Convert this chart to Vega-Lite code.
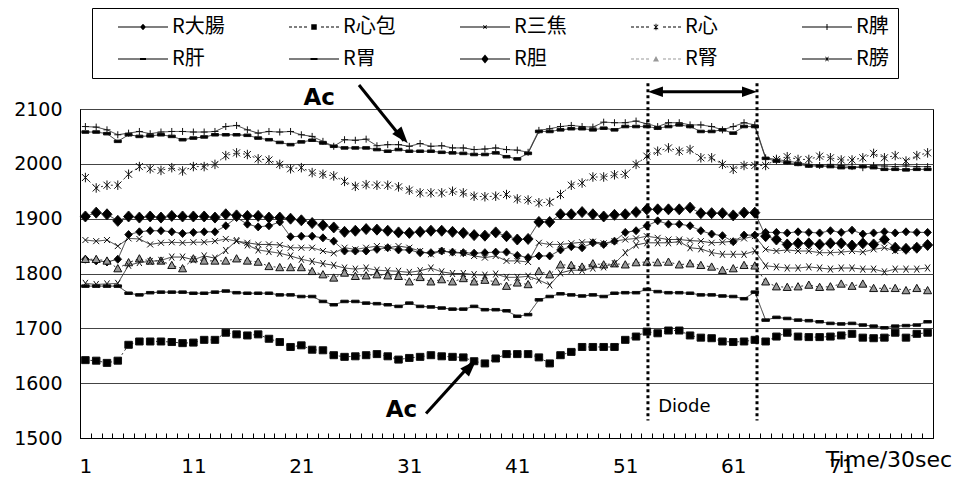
{
"$schema":"https://vega.github.io/schema/vega-lite/v6.json",
"width":853,"height":329,
"autosize":{"type":"none"},
"padding":{"left":80,"top":109,"right":23,"bottom":39},
"background":"white",
"config":{"view":{"stroke":"black","strokeWidth":1},"font":"DejaVu Sans",
 "axisY":{"ticks":false,"grid":true,"gridColor":"#444","gridWidth":1,"domainColor":"black","labelFont":"DejaVu Sans","labelFontSize":19,"labelColor":"black","labelPadding":18}},
"datasets":{"main":[
{"t":1,"s":"R大腸","v":1826},{"t":2,"s":"R大腸","v":1823},{"t":3,"s":"R大腸","v":1821},{"t":4,"s":"R大腸","v":1826},{"t":5,"s":"R大腸","v":1871},{"t":6,"s":"R大腸","v":1876},{"t":7,"s":"R大腸","v":1878},{"t":8,"s":"R大腸","v":1878},{"t":9,"s":"R大腸","v":1876},{"t":10,"s":"R大腸","v":1873},
{"t":11,"s":"R大腸","v":1875},{"t":12,"s":"R大腸","v":1876},{"t":13,"s":"R大腸","v":1876},{"t":14,"s":"R大腸","v":1887},{"t":15,"s":"R大腸","v":1902},{"t":16,"s":"R大腸","v":1890},{"t":17,"s":"R大腸","v":1885},{"t":18,"s":"R大腸","v":1887},{"t":19,"s":"R大腸","v":1894},{"t":20,"s":"R大腸","v":1867},
{"t":21,"s":"R大腸","v":1868},{"t":22,"s":"R大腸","v":1868},{"t":23,"s":"R大腸","v":1865},{"t":24,"s":"R大腸","v":1859},{"t":25,"s":"R大腸","v":1841},{"t":26,"s":"R大腸","v":1841},{"t":27,"s":"R大腸","v":1841},{"t":28,"s":"R大腸","v":1844},{"t":29,"s":"R大腸","v":1847},{"t":30,"s":"R大腸","v":1843},
{"t":31,"s":"R大腸","v":1843},{"t":32,"s":"R大腸","v":1838},{"t":33,"s":"R大腸","v":1838},{"t":34,"s":"R大腸","v":1841},{"t":35,"s":"R大腸","v":1839},{"t":36,"s":"R大腸","v":1838},{"t":37,"s":"R大腸","v":1837},{"t":38,"s":"R大腸","v":1838},{"t":39,"s":"R大腸","v":1839},{"t":40,"s":"R大腸","v":1839},
{"t":41,"s":"R大腸","v":1833},{"t":42,"s":"R大腸","v":1829},{"t":43,"s":"R大腸","v":1832},{"t":44,"s":"R大腸","v":1832},{"t":45,"s":"R大腸","v":1843},{"t":46,"s":"R大腸","v":1849},{"t":47,"s":"R大腸","v":1847},{"t":48,"s":"R大腸","v":1856},{"t":49,"s":"R大腸","v":1853},{"t":50,"s":"R大腸","v":1859},
{"t":51,"s":"R大腸","v":1875},{"t":52,"s":"R大腸","v":1878},{"t":53,"s":"R大腸","v":1887},{"t":54,"s":"R大腸","v":1896},{"t":55,"s":"R大腸","v":1890},{"t":56,"s":"R大腸","v":1890},{"t":57,"s":"R大腸","v":1887},{"t":58,"s":"R大腸","v":1878},{"t":59,"s":"R大腸","v":1872},{"t":60,"s":"R大腸","v":1869},
{"t":61,"s":"R大腸","v":1858},{"t":62,"s":"R大腸","v":1870},{"t":63,"s":"R大腸","v":1870},{"t":64,"s":"R大腸","v":1875},{"t":65,"s":"R大腸","v":1875},{"t":66,"s":"R大腸","v":1874},{"t":67,"s":"R大腸","v":1876},{"t":68,"s":"R大腸","v":1875},{"t":69,"s":"R大腸","v":1874},{"t":70,"s":"R大腸","v":1878},
{"t":71,"s":"R大腸","v":1875},{"t":72,"s":"R大腸","v":1879},{"t":73,"s":"R大腸","v":1872},{"t":74,"s":"R大腸","v":1874},{"t":75,"s":"R大腸","v":1876},{"t":76,"s":"R大腸","v":1874},{"t":77,"s":"R大腸","v":1876},{"t":78,"s":"R大腸","v":1875},{"t":79,"s":"R大腸","v":1875},
{"t":1,"s":"R心包","v":1642},{"t":2,"s":"R心包","v":1641},{"t":3,"s":"R心包","v":1637},{"t":4,"s":"R心包","v":1641},{"t":5,"s":"R心包","v":1670},{"t":6,"s":"R心包","v":1676},{"t":7,"s":"R心包","v":1676},{"t":8,"s":"R心包","v":1676},{"t":9,"s":"R心包","v":1675},{"t":10,"s":"R心包","v":1673},
{"t":11,"s":"R心包","v":1674},{"t":12,"s":"R心包","v":1679},{"t":13,"s":"R心包","v":1679},{"t":14,"s":"R心包","v":1692},{"t":15,"s":"R心包","v":1689},{"t":16,"s":"R心包","v":1687},{"t":17,"s":"R心包","v":1689},{"t":18,"s":"R心包","v":1681},{"t":19,"s":"R心包","v":1675},{"t":20,"s":"R心包","v":1666},
{"t":21,"s":"R心包","v":1669},{"t":22,"s":"R心包","v":1661},{"t":23,"s":"R心包","v":1660},{"t":24,"s":"R心包","v":1651},{"t":25,"s":"R心包","v":1648},{"t":26,"s":"R心包","v":1649},{"t":27,"s":"R心包","v":1651},{"t":28,"s":"R心包","v":1653},{"t":29,"s":"R心包","v":1649},{"t":30,"s":"R心包","v":1643},
{"t":31,"s":"R心包","v":1646},{"t":32,"s":"R心包","v":1648},{"t":33,"s":"R心包","v":1651},{"t":34,"s":"R心包","v":1649},{"t":35,"s":"R心包","v":1648},{"t":36,"s":"R心包","v":1647},{"t":37,"s":"R心包","v":1640},{"t":38,"s":"R心包","v":1636},{"t":39,"s":"R心包","v":1645},{"t":40,"s":"R心包","v":1653},
{"t":41,"s":"R心包","v":1653},{"t":42,"s":"R心包","v":1653},{"t":43,"s":"R心包","v":1647},{"t":44,"s":"R心包","v":1636},{"t":45,"s":"R心包","v":1651},{"t":46,"s":"R心包","v":1657},{"t":47,"s":"R心包","v":1666},{"t":48,"s":"R心包","v":1666},{"t":49,"s":"R心包","v":1666},{"t":50,"s":"R心包","v":1666},
{"t":51,"s":"R心包","v":1679},{"t":52,"s":"R心包","v":1685},{"t":53,"s":"R心包","v":1694},{"t":54,"s":"R心包","v":1691},{"t":55,"s":"R心包","v":1696},{"t":56,"s":"R心包","v":1696},{"t":57,"s":"R心包","v":1687},{"t":58,"s":"R心包","v":1683},{"t":59,"s":"R心包","v":1682},{"t":60,"s":"R心包","v":1676},
{"t":61,"s":"R心包","v":1675},{"t":62,"s":"R心包","v":1676},{"t":63,"s":"R心包","v":1679},{"t":64,"s":"R心包","v":1676},{"t":65,"s":"R心包","v":1685},{"t":66,"s":"R心包","v":1692},{"t":67,"s":"R心包","v":1685},{"t":68,"s":"R心包","v":1684},{"t":69,"s":"R心包","v":1684},{"t":70,"s":"R心包","v":1685},
{"t":71,"s":"R心包","v":1687},{"t":72,"s":"R心包","v":1690},{"t":73,"s":"R心包","v":1683},{"t":74,"s":"R心包","v":1682},{"t":75,"s":"R心包","v":1683},{"t":76,"s":"R心包","v":1692},{"t":77,"s":"R心包","v":1683},{"t":78,"s":"R心包","v":1690},{"t":79,"s":"R心包","v":1692},
{"t":1,"s":"R三焦","v":1861},{"t":2,"s":"R三焦","v":1859},{"t":3,"s":"R三焦","v":1861},{"t":4,"s":"R三焦","v":1850},{"t":5,"s":"R三焦","v":1864},{"t":6,"s":"R三焦","v":1863},{"t":7,"s":"R三焦","v":1853},{"t":8,"s":"R三焦","v":1856},{"t":9,"s":"R三焦","v":1857},{"t":10,"s":"R三焦","v":1856},
{"t":11,"s":"R三焦","v":1857},{"t":12,"s":"R三焦","v":1857},{"t":13,"s":"R三焦","v":1859},{"t":14,"s":"R三焦","v":1863},{"t":15,"s":"R三焦","v":1859},{"t":16,"s":"R三焦","v":1856},{"t":17,"s":"R三焦","v":1853},{"t":18,"s":"R三焦","v":1853},{"t":19,"s":"R三焦","v":1852},{"t":20,"s":"R三焦","v":1847},
{"t":21,"s":"R三焦","v":1847},{"t":22,"s":"R三焦","v":1847},{"t":23,"s":"R三焦","v":1841},{"t":24,"s":"R三焦","v":1837},{"t":25,"s":"R三焦","v":1847},{"t":26,"s":"R三焦","v":1844},{"t":27,"s":"R三焦","v":1847},{"t":28,"s":"R三焦","v":1850},{"t":29,"s":"R三焦","v":1847},{"t":30,"s":"R三焦","v":1850},
{"t":31,"s":"R三焦","v":1847},{"t":32,"s":"R三焦","v":1841},{"t":33,"s":"R三焦","v":1835},{"t":34,"s":"R三焦","v":1841},{"t":35,"s":"R三焦","v":1838},{"t":36,"s":"R三焦","v":1837},{"t":37,"s":"R三焦","v":1832},{"t":38,"s":"R三焦","v":1829},{"t":39,"s":"R三焦","v":1832},{"t":40,"s":"R三焦","v":1823},
{"t":41,"s":"R三焦","v":1823},{"t":42,"s":"R三焦","v":1821},{"t":43,"s":"R三焦","v":1856},{"t":44,"s":"R三焦","v":1853},{"t":45,"s":"R三焦","v":1853},{"t":46,"s":"R三焦","v":1855},{"t":47,"s":"R三焦","v":1857},{"t":48,"s":"R三焦","v":1858},{"t":49,"s":"R三焦","v":1855},{"t":50,"s":"R三焦","v":1859},
{"t":51,"s":"R三焦","v":1862},{"t":52,"s":"R三焦","v":1864},{"t":53,"s":"R三焦","v":1868},{"t":54,"s":"R三焦","v":1865},{"t":55,"s":"R三焦","v":1862},{"t":56,"s":"R三焦","v":1862},{"t":57,"s":"R三焦","v":1860},{"t":58,"s":"R三焦","v":1859},{"t":59,"s":"R三焦","v":1856},{"t":60,"s":"R三焦","v":1857},
{"t":61,"s":"R三焦","v":1859},{"t":62,"s":"R三焦","v":1864},{"t":63,"s":"R三焦","v":1868},{"t":64,"s":"R三焦","v":1844},{"t":65,"s":"R三焦","v":1841},{"t":66,"s":"R三焦","v":1843},{"t":67,"s":"R三焦","v":1841},{"t":68,"s":"R三焦","v":1841},{"t":69,"s":"R三焦","v":1838},{"t":70,"s":"R三焦","v":1838},
{"t":71,"s":"R三焦","v":1839},{"t":72,"s":"R三焦","v":1841},{"t":73,"s":"R三焦","v":1839},{"t":74,"s":"R三焦","v":1844},{"t":75,"s":"R三焦","v":1847},{"t":76,"s":"R三焦","v":1841},{"t":77,"s":"R三焦","v":1844},{"t":78,"s":"R三焦","v":1847},{"t":79,"s":"R三焦","v":1852},
{"t":1,"s":"R心","v":1975},{"t":2,"s":"R心","v":1956},{"t":3,"s":"R心","v":1961},{"t":4,"s":"R心","v":1961},{"t":5,"s":"R心","v":1981},{"t":6,"s":"R心","v":1995},{"t":7,"s":"R心","v":1991},{"t":8,"s":"R心","v":1988},{"t":9,"s":"R心","v":1993},{"t":10,"s":"R心","v":1987},
{"t":11,"s":"R心","v":1995},{"t":12,"s":"R心","v":1995},{"t":13,"s":"R心","v":1999},{"t":14,"s":"R心","v":2015},{"t":15,"s":"R心","v":2020},{"t":16,"s":"R心","v":2017},{"t":17,"s":"R心","v":2009},{"t":18,"s":"R心","v":2007},{"t":19,"s":"R心","v":1999},{"t":20,"s":"R心","v":1991},
{"t":21,"s":"R心","v":1993},{"t":22,"s":"R心","v":1984},{"t":23,"s":"R心","v":1981},{"t":24,"s":"R心","v":1978},{"t":25,"s":"R心","v":1968},{"t":26,"s":"R心","v":1959},{"t":27,"s":"R心","v":1962},{"t":28,"s":"R心","v":1961},{"t":29,"s":"R心","v":1961},{"t":30,"s":"R心","v":1958},
{"t":31,"s":"R心","v":1952},{"t":32,"s":"R心","v":1947},{"t":33,"s":"R心","v":1947},{"t":34,"s":"R心","v":1947},{"t":35,"s":"R心","v":1950},{"t":36,"s":"R心","v":1947},{"t":37,"s":"R心","v":1941},{"t":38,"s":"R心","v":1940},{"t":39,"s":"R心","v":1941},{"t":40,"s":"R心","v":1944},
{"t":41,"s":"R心","v":1936},{"t":42,"s":"R心","v":1934},{"t":43,"s":"R心","v":1929},{"t":44,"s":"R心","v":1930},{"t":45,"s":"R心","v":1944},{"t":46,"s":"R心","v":1961},{"t":47,"s":"R心","v":1965},{"t":48,"s":"R心","v":1976},{"t":49,"s":"R心","v":1976},{"t":50,"s":"R心","v":1980},
{"t":51,"s":"R心","v":1981},{"t":52,"s":"R心","v":1999},{"t":53,"s":"R心","v":2014},{"t":54,"s":"R心","v":2023},{"t":55,"s":"R心","v":2029},{"t":56,"s":"R心","v":2023},{"t":57,"s":"R心","v":2026},{"t":58,"s":"R心","v":2011},{"t":59,"s":"R心","v":2011},{"t":60,"s":"R心","v":1999},
{"t":61,"s":"R心","v":1990},{"t":62,"s":"R心","v":1997},{"t":63,"s":"R心","v":1997},{"t":64,"s":"R心","v":1997},{"t":65,"s":"R心","v":2008},{"t":66,"s":"R心","v":2013},{"t":67,"s":"R心","v":2008},{"t":68,"s":"R心","v":2008},{"t":69,"s":"R心","v":2014},{"t":70,"s":"R心","v":2011},
{"t":71,"s":"R心","v":2007},{"t":72,"s":"R心","v":2007},{"t":73,"s":"R心","v":2011},{"t":74,"s":"R心","v":2019},{"t":75,"s":"R心","v":2011},{"t":76,"s":"R心","v":2015},{"t":77,"s":"R心","v":2005},{"t":78,"s":"R心","v":2015},{"t":79,"s":"R心","v":2020},
{"t":1,"s":"R脾","v":2068},{"t":2,"s":"R脾","v":2067},{"t":3,"s":"R脾","v":2062},{"t":4,"s":"R脾","v":2053},{"t":5,"s":"R脾","v":2056},{"t":6,"s":"R脾","v":2059},{"t":7,"s":"R脾","v":2055},{"t":8,"s":"R脾","v":2058},{"t":9,"s":"R脾","v":2059},{"t":10,"s":"R脾","v":2059},
{"t":11,"s":"R脾","v":2058},{"t":12,"s":"R脾","v":2058},{"t":13,"s":"R脾","v":2059},{"t":14,"s":"R脾","v":2068},{"t":15,"s":"R脾","v":2070},{"t":16,"s":"R脾","v":2062},{"t":17,"s":"R脾","v":2056},{"t":18,"s":"R脾","v":2059},{"t":19,"s":"R脾","v":2058},{"t":20,"s":"R脾","v":2059},
{"t":21,"s":"R脾","v":2053},{"t":22,"s":"R脾","v":2050},{"t":23,"s":"R脾","v":2041},{"t":24,"s":"R脾","v":2032},{"t":25,"s":"R脾","v":2044},{"t":26,"s":"R脾","v":2043},{"t":27,"s":"R脾","v":2045},{"t":28,"s":"R脾","v":2033},{"t":29,"s":"R脾","v":2035},{"t":30,"s":"R脾","v":2035},
{"t":31,"s":"R脾","v":2032},{"t":32,"s":"R脾","v":2037},{"t":33,"s":"R脾","v":2032},{"t":34,"s":"R脾","v":2033},{"t":35,"s":"R脾","v":2029},{"t":36,"s":"R脾","v":2029},{"t":37,"s":"R脾","v":2026},{"t":38,"s":"R脾","v":2027},{"t":39,"s":"R脾","v":2029},{"t":40,"s":"R脾","v":2026},
{"t":41,"s":"R脾","v":2025},{"t":42,"s":"R脾","v":2021},{"t":43,"s":"R脾","v":2061},{"t":44,"s":"R脾","v":2064},{"t":45,"s":"R脾","v":2068},{"t":46,"s":"R脾","v":2070},{"t":47,"s":"R脾","v":2068},{"t":48,"s":"R脾","v":2067},{"t":49,"s":"R脾","v":2076},{"t":50,"s":"R脾","v":2075},
{"t":51,"s":"R脾","v":2075},{"t":52,"s":"R脾","v":2078},{"t":53,"s":"R脾","v":2073},{"t":54,"s":"R脾","v":2068},{"t":55,"s":"R脾","v":2075},{"t":56,"s":"R脾","v":2075},{"t":57,"s":"R脾","v":2071},{"t":58,"s":"R脾","v":2071},{"t":59,"s":"R脾","v":2068},{"t":60,"s":"R脾","v":2062},
{"t":61,"s":"R脾","v":2068},{"t":62,"s":"R脾","v":2075},{"t":63,"s":"R脾","v":2071},{"t":64,"s":"R脾","v":2011},{"t":65,"s":"R脾","v":2008},{"t":66,"s":"R脾","v":2005},{"t":67,"s":"R脾","v":2002},{"t":68,"s":"R脾","v":1999},{"t":69,"s":"R脾","v":1997},{"t":70,"s":"R脾","v":1999},
{"t":71,"s":"R脾","v":1997},{"t":72,"s":"R脾","v":1995},{"t":73,"s":"R脾","v":1993},{"t":74,"s":"R脾","v":1997},{"t":75,"s":"R脾","v":1996},{"t":76,"s":"R脾","v":1995},{"t":77,"s":"R脾","v":1996},{"t":78,"s":"R脾","v":1995},{"t":79,"s":"R脾","v":1995},
{"t":1,"s":"R肝","v":2058},{"t":2,"s":"R肝","v":2058},{"t":3,"s":"R肝","v":2055},{"t":4,"s":"R肝","v":2041},{"t":5,"s":"R肝","v":2053},{"t":6,"s":"R肝","v":2050},{"t":7,"s":"R肝","v":2051},{"t":8,"s":"R肝","v":2053},{"t":9,"s":"R肝","v":2050},{"t":10,"s":"R肝","v":2044},
{"t":11,"s":"R肝","v":2047},{"t":12,"s":"R肝","v":2049},{"t":13,"s":"R肝","v":2053},{"t":14,"s":"R肝","v":2053},{"t":15,"s":"R肝","v":2053},{"t":16,"s":"R肝","v":2052},{"t":17,"s":"R肝","v":2047},{"t":18,"s":"R肝","v":2044},{"t":19,"s":"R肝","v":2039},{"t":20,"s":"R肝","v":2035},
{"t":21,"s":"R肝","v":2040},{"t":22,"s":"R肝","v":2043},{"t":23,"s":"R肝","v":2038},{"t":24,"s":"R肝","v":2032},{"t":25,"s":"R肝","v":2029},{"t":26,"s":"R肝","v":2029},{"t":27,"s":"R肝","v":2029},{"t":28,"s":"R肝","v":2026},{"t":29,"s":"R肝","v":2023},{"t":30,"s":"R肝","v":2026},
{"t":31,"s":"R肝","v":2023},{"t":32,"s":"R肝","v":2023},{"t":33,"s":"R肝","v":2023},{"t":34,"s":"R肝","v":2021},{"t":35,"s":"R肝","v":2020},{"t":36,"s":"R肝","v":2019},{"t":37,"s":"R肝","v":2017},{"t":38,"s":"R肝","v":2017},{"t":39,"s":"R肝","v":2020},{"t":40,"s":"R肝","v":2013},
{"t":41,"s":"R肝","v":2009},{"t":42,"s":"R肝","v":2019},{"t":43,"s":"R肝","v":2059},{"t":44,"s":"R肝","v":2059},{"t":45,"s":"R肝","v":2062},{"t":46,"s":"R肝","v":2064},{"t":47,"s":"R肝","v":2064},{"t":48,"s":"R肝","v":2062},{"t":49,"s":"R肝","v":2065},{"t":50,"s":"R肝","v":2062},
{"t":51,"s":"R肝","v":2068},{"t":52,"s":"R肝","v":2068},{"t":53,"s":"R肝","v":2068},{"t":54,"s":"R肝","v":2065},{"t":55,"s":"R肝","v":2068},{"t":56,"s":"R肝","v":2071},{"t":57,"s":"R肝","v":2068},{"t":58,"s":"R肝","v":2059},{"t":59,"s":"R肝","v":2059},{"t":60,"s":"R肝","v":2062},
{"t":61,"s":"R肝","v":2056},{"t":62,"s":"R肝","v":2068},{"t":63,"s":"R肝","v":2068},{"t":64,"s":"R肝","v":2010},{"t":65,"s":"R肝","v":2005},{"t":66,"s":"R肝","v":2002},{"t":67,"s":"R肝","v":1999},{"t":68,"s":"R肝","v":1996},{"t":69,"s":"R肝","v":1996},{"t":70,"s":"R肝","v":1995},
{"t":71,"s":"R肝","v":1993},{"t":72,"s":"R肝","v":1993},{"t":73,"s":"R肝","v":1995},{"t":74,"s":"R肝","v":1993},{"t":75,"s":"R肝","v":1990},{"t":76,"s":"R肝","v":1990},{"t":77,"s":"R肝","v":1989},{"t":78,"s":"R肝","v":1990},{"t":79,"s":"R肝","v":1990},
{"t":1,"s":"R胃","v":1777},{"t":2,"s":"R胃","v":1777},{"t":3,"s":"R胃","v":1777},{"t":4,"s":"R胃","v":1777},{"t":5,"s":"R胃","v":1764},{"t":6,"s":"R胃","v":1761},{"t":7,"s":"R胃","v":1765},{"t":8,"s":"R胃","v":1766},{"t":9,"s":"R胃","v":1766},{"t":10,"s":"R胃","v":1766},
{"t":11,"s":"R胃","v":1764},{"t":12,"s":"R胃","v":1764},{"t":13,"s":"R胃","v":1766},{"t":14,"s":"R胃","v":1768},{"t":15,"s":"R胃","v":1765},{"t":16,"s":"R胃","v":1764},{"t":17,"s":"R胃","v":1764},{"t":18,"s":"R胃","v":1764},{"t":19,"s":"R胃","v":1761},{"t":20,"s":"R胃","v":1761},
{"t":21,"s":"R胃","v":1758},{"t":22,"s":"R胃","v":1758},{"t":23,"s":"R胃","v":1749},{"t":24,"s":"R胃","v":1743},{"t":25,"s":"R胃","v":1749},{"t":26,"s":"R胃","v":1749},{"t":27,"s":"R胃","v":1746},{"t":28,"s":"R胃","v":1745},{"t":29,"s":"R胃","v":1743},{"t":30,"s":"R胃","v":1740},
{"t":31,"s":"R胃","v":1746},{"t":32,"s":"R胃","v":1740},{"t":33,"s":"R胃","v":1739},{"t":34,"s":"R胃","v":1737},{"t":35,"s":"R胃","v":1735},{"t":36,"s":"R胃","v":1735},{"t":37,"s":"R胃","v":1740},{"t":38,"s":"R胃","v":1734},{"t":39,"s":"R胃","v":1734},{"t":40,"s":"R胃","v":1732},
{"t":41,"s":"R胃","v":1722},{"t":42,"s":"R胃","v":1725},{"t":43,"s":"R胃","v":1752},{"t":44,"s":"R胃","v":1758},{"t":45,"s":"R胃","v":1763},{"t":46,"s":"R胃","v":1761},{"t":47,"s":"R胃","v":1759},{"t":48,"s":"R胃","v":1761},{"t":49,"s":"R胃","v":1758},{"t":50,"s":"R胃","v":1764},
{"t":51,"s":"R胃","v":1765},{"t":52,"s":"R胃","v":1765},{"t":53,"s":"R胃","v":1771},{"t":54,"s":"R胃","v":1767},{"t":55,"s":"R胃","v":1765},{"t":56,"s":"R胃","v":1765},{"t":57,"s":"R胃","v":1764},{"t":58,"s":"R胃","v":1761},{"t":59,"s":"R胃","v":1761},{"t":60,"s":"R胃","v":1759},
{"t":61,"s":"R胃","v":1758},{"t":62,"s":"R胃","v":1754},{"t":63,"s":"R胃","v":1766},{"t":64,"s":"R胃","v":1715},{"t":65,"s":"R胃","v":1720},{"t":66,"s":"R胃","v":1718},{"t":67,"s":"R胃","v":1715},{"t":68,"s":"R胃","v":1714},{"t":69,"s":"R胃","v":1712},{"t":70,"s":"R胃","v":1709},
{"t":71,"s":"R胃","v":1708},{"t":72,"s":"R胃","v":1709},{"t":73,"s":"R胃","v":1706},{"t":74,"s":"R胃","v":1704},{"t":75,"s":"R胃","v":1701},{"t":76,"s":"R胃","v":1704},{"t":77,"s":"R胃","v":1705},{"t":78,"s":"R胃","v":1706},{"t":79,"s":"R胃","v":1712},
{"t":1,"s":"R胆","v":1904},{"t":2,"s":"R胆","v":1911},{"t":3,"s":"R胆","v":1908},{"t":4,"s":"R胆","v":1896},{"t":5,"s":"R胆","v":1904},{"t":6,"s":"R胆","v":1902},{"t":7,"s":"R胆","v":1904},{"t":8,"s":"R胆","v":1902},{"t":9,"s":"R胆","v":1905},{"t":10,"s":"R胆","v":1904},
{"t":11,"s":"R胆","v":1904},{"t":12,"s":"R胆","v":1904},{"t":13,"s":"R胆","v":1902},{"t":14,"s":"R胆","v":1908},{"t":15,"s":"R胆","v":1906},{"t":16,"s":"R胆","v":1905},{"t":17,"s":"R胆","v":1905},{"t":18,"s":"R胆","v":1902},{"t":19,"s":"R胆","v":1902},{"t":20,"s":"R胆","v":1900},
{"t":21,"s":"R胆","v":1897},{"t":22,"s":"R胆","v":1892},{"t":23,"s":"R胆","v":1888},{"t":24,"s":"R胆","v":1884},{"t":25,"s":"R胆","v":1876},{"t":26,"s":"R胆","v":1878},{"t":27,"s":"R胆","v":1881},{"t":28,"s":"R胆","v":1880},{"t":29,"s":"R胆","v":1878},{"t":30,"s":"R胆","v":1875},
{"t":31,"s":"R胆","v":1874},{"t":32,"s":"R胆","v":1876},{"t":33,"s":"R胆","v":1878},{"t":34,"s":"R胆","v":1878},{"t":35,"s":"R胆","v":1876},{"t":36,"s":"R胆","v":1874},{"t":37,"s":"R胆","v":1870},{"t":38,"s":"R胆","v":1869},{"t":39,"s":"R胆","v":1875},{"t":40,"s":"R胆","v":1868},
{"t":41,"s":"R胆","v":1862},{"t":42,"s":"R胆","v":1863},{"t":43,"s":"R胆","v":1894},{"t":44,"s":"R胆","v":1894},{"t":45,"s":"R胆","v":1908},{"t":46,"s":"R胆","v":1908},{"t":47,"s":"R胆","v":1912},{"t":48,"s":"R胆","v":1908},{"t":49,"s":"R胆","v":1904},{"t":50,"s":"R胆","v":1907},
{"t":51,"s":"R胆","v":1908},{"t":52,"s":"R胆","v":1912},{"t":53,"s":"R胆","v":1917},{"t":54,"s":"R胆","v":1917},{"t":55,"s":"R胆","v":1917},{"t":56,"s":"R胆","v":1917},{"t":57,"s":"R胆","v":1920},{"t":58,"s":"R胆","v":1910},{"t":59,"s":"R胆","v":1910},{"t":60,"s":"R胆","v":1910},
{"t":61,"s":"R胆","v":1906},{"t":62,"s":"R胆","v":1911},{"t":63,"s":"R胆","v":1911},{"t":64,"s":"R胆","v":1868},{"t":65,"s":"R胆","v":1862},{"t":66,"s":"R胆","v":1853},{"t":67,"s":"R胆","v":1855},{"t":68,"s":"R胆","v":1855},{"t":69,"s":"R胆","v":1853},{"t":70,"s":"R胆","v":1855},
{"t":71,"s":"R胆","v":1855},{"t":72,"s":"R胆","v":1851},{"t":73,"s":"R胆","v":1855},{"t":74,"s":"R胆","v":1853},{"t":75,"s":"R胆","v":1862},{"t":76,"s":"R胆","v":1847},{"t":77,"s":"R胆","v":1845},{"t":78,"s":"R胆","v":1847},{"t":79,"s":"R胆","v":1852},
{"t":1,"s":"R腎","v":1826},{"t":2,"s":"R腎","v":1826},{"t":3,"s":"R腎","v":1823},{"t":4,"s":"R腎","v":1809},{"t":5,"s":"R腎","v":1820},{"t":6,"s":"R腎","v":1827},{"t":7,"s":"R腎","v":1823},{"t":8,"s":"R腎","v":1823},{"t":9,"s":"R腎","v":1815},{"t":10,"s":"R腎","v":1809},
{"t":11,"s":"R腎","v":1827},{"t":12,"s":"R腎","v":1823},{"t":13,"s":"R腎","v":1823},{"t":14,"s":"R腎","v":1823},{"t":15,"s":"R腎","v":1827},{"t":16,"s":"R腎","v":1823},{"t":17,"s":"R腎","v":1821},{"t":18,"s":"R腎","v":1813},{"t":19,"s":"R腎","v":1811},{"t":20,"s":"R腎","v":1811},
{"t":21,"s":"R腎","v":1811},{"t":22,"s":"R腎","v":1804},{"t":23,"s":"R腎","v":1798},{"t":24,"s":"R腎","v":1792},{"t":25,"s":"R腎","v":1801},{"t":26,"s":"R腎","v":1795},{"t":27,"s":"R腎","v":1796},{"t":28,"s":"R腎","v":1798},{"t":29,"s":"R腎","v":1796},{"t":30,"s":"R腎","v":1795},
{"t":31,"s":"R腎","v":1785},{"t":32,"s":"R腎","v":1793},{"t":33,"s":"R腎","v":1785},{"t":34,"s":"R腎","v":1789},{"t":35,"s":"R腎","v":1785},{"t":36,"s":"R腎","v":1791},{"t":37,"s":"R腎","v":1785},{"t":38,"s":"R腎","v":1788},{"t":39,"s":"R腎","v":1785},{"t":40,"s":"R腎","v":1777},
{"t":41,"s":"R腎","v":1783},{"t":42,"s":"R腎","v":1780},{"t":43,"s":"R腎","v":1804},{"t":44,"s":"R腎","v":1798},{"t":45,"s":"R腎","v":1816},{"t":46,"s":"R腎","v":1815},{"t":47,"s":"R腎","v":1812},{"t":48,"s":"R腎","v":1818},{"t":49,"s":"R腎","v":1816},{"t":50,"s":"R腎","v":1818},
{"t":51,"s":"R腎","v":1816},{"t":52,"s":"R腎","v":1820},{"t":53,"s":"R腎","v":1821},{"t":54,"s":"R腎","v":1820},{"t":55,"s":"R腎","v":1821},{"t":56,"s":"R腎","v":1816},{"t":57,"s":"R腎","v":1818},{"t":58,"s":"R腎","v":1815},{"t":59,"s":"R腎","v":1812},{"t":60,"s":"R腎","v":1806},
{"t":61,"s":"R腎","v":1809},{"t":62,"s":"R腎","v":1815},{"t":63,"s":"R腎","v":1814},{"t":64,"s":"R腎","v":1785},{"t":65,"s":"R腎","v":1776},{"t":66,"s":"R腎","v":1775},{"t":67,"s":"R腎","v":1776},{"t":68,"s":"R腎","v":1779},{"t":69,"s":"R腎","v":1775},{"t":70,"s":"R腎","v":1776},
{"t":71,"s":"R腎","v":1781},{"t":72,"s":"R腎","v":1777},{"t":73,"s":"R腎","v":1781},{"t":74,"s":"R腎","v":1773},{"t":75,"s":"R腎","v":1773},{"t":76,"s":"R腎","v":1773},{"t":77,"s":"R腎","v":1769},{"t":78,"s":"R腎","v":1773},{"t":79,"s":"R腎","v":1769},
{"t":1,"s":"R膀","v":1782},{"t":2,"s":"R膀","v":1780},{"t":3,"s":"R膀","v":1781},{"t":4,"s":"R膀","v":1782},{"t":5,"s":"R膀","v":1815},{"t":6,"s":"R膀","v":1820},{"t":7,"s":"R膀","v":1822},{"t":8,"s":"R膀","v":1824},{"t":9,"s":"R膀","v":1830},{"t":10,"s":"R膀","v":1830},
{"t":11,"s":"R膀","v":1825},{"t":12,"s":"R膀","v":1832},{"t":13,"s":"R膀","v":1828},{"t":14,"s":"R膀","v":1842},{"t":15,"s":"R膀","v":1860},{"t":16,"s":"R膀","v":1852},{"t":17,"s":"R膀","v":1843},{"t":18,"s":"R膀","v":1840},{"t":19,"s":"R膀","v":1837},{"t":20,"s":"R膀","v":1832},
{"t":21,"s":"R膀","v":1826},{"t":22,"s":"R膀","v":1822},{"t":23,"s":"R膀","v":1818},{"t":24,"s":"R膀","v":1815},{"t":25,"s":"R膀","v":1810},{"t":26,"s":"R膀","v":1808},{"t":27,"s":"R膀","v":1810},{"t":28,"s":"R膀","v":1806},{"t":29,"s":"R膀","v":1805},{"t":30,"s":"R膀","v":1804},
{"t":31,"s":"R膀","v":1802},{"t":32,"s":"R膀","v":1805},{"t":33,"s":"R膀","v":1810},{"t":34,"s":"R膀","v":1803},{"t":35,"s":"R膀","v":1800},{"t":36,"s":"R膀","v":1800},{"t":37,"s":"R膀","v":1798},{"t":38,"s":"R膀","v":1797},{"t":39,"s":"R膀","v":1799},{"t":40,"s":"R膀","v":1793},
{"t":41,"s":"R膀","v":1793},{"t":42,"s":"R膀","v":1795},{"t":43,"s":"R膀","v":1788},{"t":44,"s":"R膀","v":1779},{"t":45,"s":"R膀","v":1801},{"t":46,"s":"R膀","v":1806},{"t":47,"s":"R膀","v":1806},{"t":48,"s":"R膀","v":1810},{"t":49,"s":"R膀","v":1812},{"t":50,"s":"R膀","v":1818},
{"t":51,"s":"R膀","v":1838},{"t":52,"s":"R膀","v":1852},{"t":53,"s":"R膀","v":1856},{"t":54,"s":"R膀","v":1856},{"t":55,"s":"R膀","v":1856},{"t":56,"s":"R膀","v":1858},{"t":57,"s":"R膀","v":1847},{"t":58,"s":"R膀","v":1845},{"t":59,"s":"R膀","v":1838},{"t":60,"s":"R膀","v":1835},
{"t":61,"s":"R膀","v":1835},{"t":62,"s":"R膀","v":1835},{"t":63,"s":"R膀","v":1841},{"t":64,"s":"R膀","v":1814},{"t":65,"s":"R膀","v":1812},{"t":66,"s":"R膀","v":1810},{"t":67,"s":"R膀","v":1810},{"t":68,"s":"R膀","v":1812},{"t":69,"s":"R膀","v":1810},{"t":70,"s":"R膀","v":1808},
{"t":71,"s":"R膀","v":1810},{"t":72,"s":"R膀","v":1810},{"t":73,"s":"R膀","v":1808},{"t":74,"s":"R膀","v":1808},{"t":75,"s":"R膀","v":1803},{"t":76,"s":"R膀","v":1808},{"t":77,"s":"R膀","v":1808},{"t":78,"s":"R膀","v":1808},{"t":79,"s":"R膀","v":1810}
]},
"resolve":{"scale":{"shape":"independent","fill":"independent"},"axis":{"x":"independent"}},
"layer":[
{"data":{"name":"main"},
 "mark":{"type":"line","stroke":"#333","strokeWidth":1},
 "encoding":{
  "x":{"field":"t","type":"quantitative","scale":{"domain":[0.5,79.5],"nice":false,"zero":false},
   "axis":{"orient":"bottom","values":[1,11,21,31,41,51,61,71],"tickCount":20,"ticks":false,"grid":false,"labelFlush":false,"labelFont":"DejaVu Sans","labelFontSize":20,"labelColor":"black","labelPadding":18,"domain":true,"domainColor":"black","domainWidth":1,
    "title":"Time/30sec","titleFont":"DejaVu Sans","titleFontSize":22,"titleFontWeight":"normal","titleColor":"black","titleX":871.7,"titleY":28.7,"titleAlign":"right","titleBaseline":"alphabetic","titleAnchor":"end"}},
  "y":{"field":"v","type":"quantitative","scale":{"domain":[1500,2100],"nice":false,"zero":false},
   "axis":{"values":[1500,1600,1700,1800,1900,2000,2100],"tickCount":20,"format":"d","ticks":false,"grid":true,"gridColor":"#444","gridWidth":1,"domainColor":"black","labelFont":"DejaVu Sans","labelFontSize":19,"labelColor":"black","labelPadding":18,"title":null}},
  "detail":{"field":"s","type":"nominal"},
  "strokeDash":{"field":"s","type":"nominal","legend":null,"scale":{"domain":["R大腸","R心包","R三焦","R心","R脾","R肝","R胃","R胆","R腎","R膀"],"range":[[1,0],[2,3],[1,0],[2,3],[1,0],[1,0],[1,0],[1,0],[2,3],[1,0]]}}
 }},
{"data":{"name":"main"},
 "mark":{"type":"point","filled":true,"size":100,"stroke":"#111","strokeWidth":1,"opacity":1},
 "encoding":{
  "x":{"field":"t","type":"quantitative","axis":{"orient":"bottom","offset":-5,"tickCount":200,"values":[0.5,1.5,2.5,3.5,4.5,5.5,6.5,7.5,8.5,9.5,10.5,11.5,12.5,13.5,14.5,15.5,16.5,17.5,18.5,19.5,20.5,21.5,22.5,23.5,24.5,25.5,26.5,27.5,28.5,29.5,30.5,31.5,32.5,33.5,34.5,35.5,36.5,37.5,38.5,39.5,40.5,41.5,42.5,43.5,44.5,45.5,46.5,47.5,48.5,49.5,50.5,51.5,52.5,53.5,54.5,55.5,56.5,57.5,58.5,59.5,60.5,61.5,62.5,63.5,64.5,65.5,66.5,67.5,68.5,69.5,70.5,71.5,72.5,73.5,74.5,75.5,76.5,77.5,78.5,79.5],"labels":false,"ticks":true,"tickSize":5,"tickColor":"black","tickWidth":1,"domain":false,"grid":false,"title":null}},
  "y":{"field":"v","type":"quantitative","axis":{"values":[1500,1600,1700,1800,1900,2000,2100],"tickCount":20,"format":"d","ticks":false,"grid":true,"gridColor":"#444","gridWidth":1,"domainColor":"black","labelFont":"DejaVu Sans","labelFontSize":19,"labelColor":"black","labelPadding":18,"title":null}},
  "shape":{"field":"s","type":"nominal","legend":null,"scale":{"domain":["R大腸","R心包","R三焦","R心","R脾","R肝","R胃","R胆","R腎","R膀"],"range":["M0,-0.8L0.75,0L0,0.8L-0.75,0Z","M-0.75,-0.7H0.75V0.7H-0.75Z","M-0.6,-0.6L0.6,0.6M-0.6,0.6L0.6,-0.6","M-0.7,-0.7L0.7,0.7M-0.7,0.7L0.7,-0.7M0,-0.95V0.95","M-0.7,0H0.7M0,-0.7V0.7","M-0.7,-0.25H0.7V0.25H-0.7Z","M-0.75,-0.25H0.75V0.25H-0.75Z","M0,-1.1L1,0L0,1.1L-1,0Z","M0,-0.8L0.8,0.65L-0.8,0.65Z","M-0.5,-0.7L0.5,0.7M-0.5,0.7L0.5,-0.7"]}},
  "fill":{"field":"s","type":"nominal","legend":null,"scale":{"domain":["R大腸","R心包","R三焦","R心","R脾","R肝","R胃","R胆","R腎","R膀"],"range":["#000","#000","#000","#000","#000","#000","#000","#000","#999","#000"]}}
 }},
{"data":{"name":"main"},
 "mark":{"type":"point","filled":true,"size":100,"opacity":0},
 "encoding":{
  "x":{"field":"t","type":"quantitative","axis":null},
  "y":{"field":"v","type":"quantitative","axis":{"values":[1500,1600,1700,1800,1900,2000,2100],"tickCount":20,"format":"d","ticks":false,"grid":true,"gridColor":"#444","gridWidth":1,"domainColor":"black","labelFont":"DejaVu Sans","labelFontSize":19,"labelColor":"black","labelPadding":18,"title":null}},
  "shape":{"field":"s","type":"nominal",
   "scale":{"domain":["R大腸","R心包","R三焦","R心","R脾","R肝","R胃","R胆","R腎","R膀"],"range":[
    "M-5,-0.1H5V0.1H-5ZM0,-0.65L0.6,0L0,0.65L-0.6,0Z",
    "M-5,-0.1H-4.4V0.1H-5ZM-4,-0.1H-3.4V0.1H-4ZM-3,-0.1H-2.4V0.1H-3ZM-2,-0.1H-1.4V0.1H-2ZM1.4,-0.1H2V0.1H1.4ZM2.4,-0.1H3V0.1H2.4ZM3.4,-0.1H4V0.1H3.4ZM4.4,-0.1H5V0.1H4.4ZM-0.55,-0.55H0.55V0.55H-0.55Z",
    "M-5,-0.1H5V0.1H-5ZM-0.4,-0.28L-0.28,-0.4L0.4,0.28L0.28,0.4ZM0.4,-0.28L-0.28,0.4L-0.4,0.28L0.28,-0.4Z",
    "M-5,-0.1H-4.4V0.1H-5ZM-4,-0.1H-3.4V0.1H-4ZM-3,-0.1H-2.4V0.1H-3ZM-2,-0.1H-1.4V0.1H-2ZM1.4,-0.1H2V0.1H1.4ZM2.4,-0.1H3V0.1H2.4ZM3.4,-0.1H4V0.1H3.4ZM4.4,-0.1H5V0.1H4.4ZM-0.5,-0.38L-0.38,-0.5L0.5,0.38L0.38,0.5ZM0.5,-0.38L-0.38,0.5L-0.5,0.38L0.38,-0.5ZM-0.09,-0.65H0.09V0.65H-0.09Z",
    "M-5,-0.1H5V0.1H-5ZM-0.1,-0.6H0.1V0.6H-0.1Z",
    "M-5,-0.1H5V0.1H-5ZM-0.6,-0.2H0.6V0.2H-0.6Z",
    "M-5,-0.1H5V0.1H-5ZM-0.7,-0.22H0.7V0.22H-0.7Z",
    "M-5,-0.1H5V0.1H-5ZM0,-0.9L0.75,0L0,0.9L-0.75,0Z",
    "M-5,-0.1H-4.4V0.1H-5ZM-4,-0.1H-3.4V0.1H-4ZM-3,-0.1H-2.4V0.1H-3ZM-2,-0.1H-1.4V0.1H-2ZM1.4,-0.1H2V0.1H1.4ZM2.4,-0.1H3V0.1H2.4ZM3.4,-0.1H4V0.1H3.4ZM4.4,-0.1H5V0.1H4.4ZM0,-0.6L0.6,0.5L-0.6,0.5Z",
    "M-5,-0.1H5V0.1H-5ZM-0.35,-0.4L-0.23,-0.5L0.35,0.4L0.23,0.5ZM0.35,-0.4L-0.23,0.5L-0.35,0.4L0.23,-0.5Z"]},
   "legend":{"title":null,"orient":"none","legendX":12,"legendY":-101,"direction":"horizontal","columns":5,"gridAlign":"all","padding":9,"strokeColor":"black","fillColor":"white","rowPadding":12,"columnPadding":47,"symbolSize":100,"symbolOffset":32,"labelOffset":19,"symbolStrokeWidth":0,"symbolOpacity":1,"labelFont":"Noto Sans CJK JP","labelFontSize":20,"labelColor":"black","labelLimit":0}},
  "fill":{"field":"s","type":"nominal","scale":{"domain":["R大腸","R心包","R三焦","R心","R脾","R肝","R胃","R胆","R腎","R膀"],"range":["#000","#000","#000","#000","#000","#000","#000","#000","#999","#000"]},"legend":{"title":null}}
 }},
{"data":{"values":[{"t":53.1,"v":2147,"v2":1532},{"t":63.2,"v":2147,"v2":1532}]},
 "mark":{"type":"rule","stroke":"black","strokeWidth":3,"strokeDash":[3,3]},
 "encoding":{"x":{"field":"t","type":"quantitative","axis":null},"y":{"field":"v","type":"quantitative","axis":{"values":[1500,1600,1700,1800,1900,2000,2100],"tickCount":20,"format":"d","ticks":false,"grid":true,"gridColor":"#444","gridWidth":1,"domainColor":"black","labelFont":"DejaVu Sans","labelFontSize":19,"labelColor":"black","labelPadding":18,"title":null}},"y2":{"field":"v2"}}},
{"data":{"values":[{"t":26.34,"v":2143.8,"t2":30.5,"v2":2042},{"t":32.55,"v":1544.7,"t2":36.8,"v2":1637},{"t":53.6,"v":2131.6,"t2":62.7,"v2":2131.6}]},
 "mark":{"type":"rule","stroke":"black","strokeWidth":3},
 "encoding":{"x":{"field":"t","type":"quantitative","axis":null},"y":{"field":"v","type":"quantitative","axis":{"values":[1500,1600,1700,1800,1900,2000,2100],"tickCount":20,"format":"d","ticks":false,"grid":true,"gridColor":"#444","gridWidth":1,"domainColor":"black","labelFont":"DejaVu Sans","labelFontSize":19,"labelColor":"black","labelPadding":18,"title":null}},"x2":{"field":"t2"},"y2":{"field":"v2"}}},
{"data":{"values":[{"t":30.85,"v":2037.4}]},
 "mark":{"type":"point","shape":"M0,0L0.7,2L-0.7,2Z","filled":true,"fill":"black","size":289,"angle":140.3,"opacity":1},
 "encoding":{"x":{"field":"t","type":"quantitative","axis":null},"y":{"field":"v","type":"quantitative","axis":{"values":[1500,1600,1700,1800,1900,2000,2100],"tickCount":20,"format":"d","ticks":false,"grid":true,"gridColor":"#444","gridWidth":1,"domainColor":"black","labelFont":"DejaVu Sans","labelFontSize":19,"labelColor":"black","labelPadding":18,"title":null}}}},
{"data":{"values":[{"t":37.2,"v":1642}]},
 "mark":{"type":"point","shape":"M0,0L0.7,2L-0.7,2Z","filled":true,"fill":"black","size":289,"angle":43.2,"opacity":1},
 "encoding":{"x":{"field":"t","type":"quantitative","axis":null},"y":{"field":"v","type":"quantitative","axis":{"values":[1500,1600,1700,1800,1900,2000,2100],"tickCount":20,"format":"d","ticks":false,"grid":true,"gridColor":"#444","gridWidth":1,"domainColor":"black","labelFont":"DejaVu Sans","labelFontSize":19,"labelColor":"black","labelPadding":18,"title":null}}}},
{"data":{"values":[{"t":53.1,"v":2131.6}]},
 "mark":{"type":"point","shape":"M0,0L0.7,2L-0.7,2Z","filled":true,"fill":"black","size":225,"angle":270,"opacity":1},
 "encoding":{"x":{"field":"t","type":"quantitative","axis":null},"y":{"field":"v","type":"quantitative","axis":{"values":[1500,1600,1700,1800,1900,2000,2100],"tickCount":20,"format":"d","ticks":false,"grid":true,"gridColor":"#444","gridWidth":1,"domainColor":"black","labelFont":"DejaVu Sans","labelFontSize":19,"labelColor":"black","labelPadding":18,"title":null}}}},
{"data":{"values":[{"t":63.2,"v":2131.6}]},
 "mark":{"type":"point","shape":"M0,0L0.7,2L-0.7,2Z","filled":true,"fill":"black","size":225,"angle":90,"opacity":1},
 "encoding":{"x":{"field":"t","type":"quantitative","axis":null},"y":{"field":"v","type":"quantitative","axis":{"values":[1500,1600,1700,1800,1900,2000,2100],"tickCount":20,"format":"d","ticks":false,"grid":true,"gridColor":"#444","gridWidth":1,"domainColor":"black","labelFont":"DejaVu Sans","labelFontSize":19,"labelColor":"black","labelPadding":18,"title":null}}}},
{"data":{"values":[{"t":21.2,"v":2107.3,"label":"Ac"},{"t":28.82,"v":1538.5,"label":"Ac"}]},
 "mark":{"type":"text","align":"left","baseline":"alphabetic","font":"DejaVu Sans","fontWeight":"bold","fontSize":23,"fill":"black"},
 "encoding":{"x":{"field":"t","type":"quantitative","axis":null},"y":{"field":"v","type":"quantitative","axis":{"values":[1500,1600,1700,1800,1900,2000,2100],"tickCount":20,"format":"d","ticks":false,"grid":true,"gridColor":"#444","gridWidth":1,"domainColor":"black","labelFont":"DejaVu Sans","labelFontSize":19,"labelColor":"black","labelPadding":18,"title":null}},"text":{"field":"label"}}},
{"data":{"values":[{"t":54.05,"v":1548,"label":"Diode"}]},
 "mark":{"type":"text","align":"left","baseline":"alphabetic","font":"DejaVu Sans","fontSize":18,"fill":"black"},
 "encoding":{"x":{"field":"t","type":"quantitative","axis":null},"y":{"field":"v","type":"quantitative","axis":{"values":[1500,1600,1700,1800,1900,2000,2100],"tickCount":20,"format":"d","ticks":false,"grid":true,"gridColor":"#444","gridWidth":1,"domainColor":"black","labelFont":"DejaVu Sans","labelFontSize":19,"labelColor":"black","labelPadding":18,"title":null}},"text":{"field":"label"}}}
]
}
